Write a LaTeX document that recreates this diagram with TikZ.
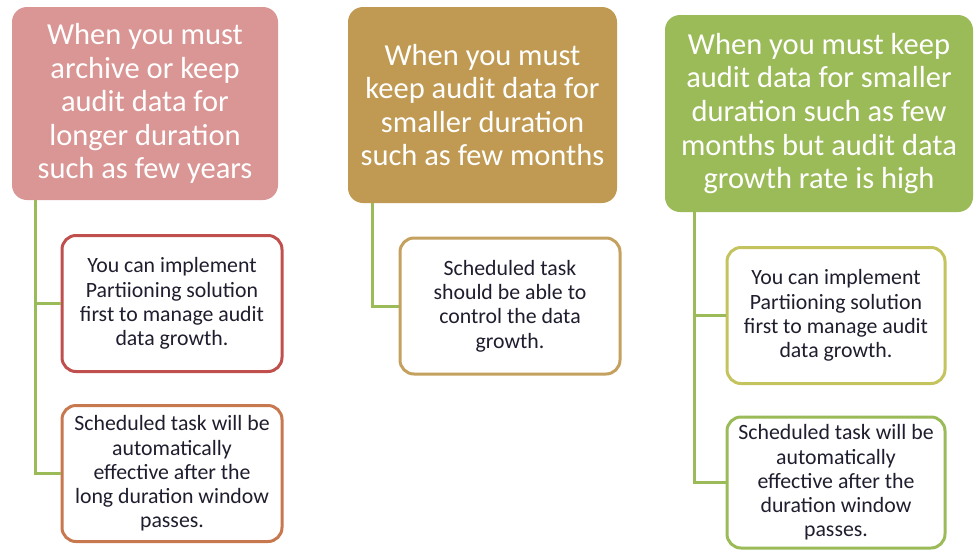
\documentclass[tikz,border=0pt]{standalone}
\usepackage{fontspec}
\setmainfont{Carlito}
\usetikzlibrary{calc}
\definecolor{PinkClr}{HTML}{D99694}
\definecolor{TanClr}{HTML}{C09A52}
\definecolor{LeafClr}{HTML}{9BBB59}
\definecolor{RedEdge}{HTML}{C0504D}
\definecolor{RustEdge}{HTML}{C8784E}
\definecolor{TanEdge}{HTML}{C4A15E}
\definecolor{OliveEdge}{HTML}{C4C35E}
\definecolor{TextClr}{HTML}{1E1E2E}

\tikzset{
  headBox/.style={rounded corners=15pt,inner sep=0pt,align=center,text=white,
    font=\fontsize{30.5}{33.6}\selectfont},
  subBox/.style={rounded corners=14pt,draw,line width=3pt,fill=white,inner sep=0pt,
    align=center,text=TextClr,minimum width=220pt,minimum height=136pt,
    font=\fontsize{21.8}{24.3}\selectfont},
  connLine/.style={draw=LeafClr,line width=3pt}
}

\begin{document}
\begin{tikzpicture}[x=1pt,y=-1pt]
\useasboundingbox (0,0) rectangle (975,552);

% headers
\node[headBox,fill=PinkClr,minimum width=266pt,minimum height=193pt] (h1) at (145,103.5)
  {When you must\\archive or keep\\audit data for\\longer duration\\such as few years};
\node[headBox,fill=TanClr,minimum width=269pt,minimum height=196pt] (h2) at (482.5,105)
  {When you must\\keep audit data for\\smaller duration\\such as few months};
\node[headBox,fill=LeafClr,minimum width=308pt,minimum height=197pt] (h3) at (819,113.5)
  {When you must keep\\audit data for smaller\\duration such as few\\months but audit data\\growth rate is high};

% sub boxes
\node[subBox,draw=RedEdge] (a1) at (172,303.5)
  {You can implement\\Partiioning solution\\first to manage audit\\data growth.};
\node[subBox,draw=RustEdge] (a2) at (172,473.5)
  {Scheduled task will be\\automatically\\effective after the\\long duration window\\passes.};
\node[subBox,draw=TanEdge] (b1) at (510,306)
  {Scheduled task\\should be able to\\control the data\\growth.};
\node[subBox,draw=OliveEdge,minimum width=218pt] (c1) at (836,315.5)
  {You can implement\\Partiioning solution\\first to manage audit\\data growth.};
\node[subBox,draw=LeafClr,minimum width=218pt,minimum height=131pt] (c2) at (836,482.5)
  {Scheduled task will be\\automatically\\effective after the\\duration window\\passes.};

% connectors
\draw[connLine] ([xshift=24pt]h1.south west) |- (a1.west);
\draw[connLine] ([xshift=24pt]h1.south west) |- (a2.west);
\draw[connLine] ([xshift=25pt]h2.south west) |- (b1.west);
\draw[connLine] ([xshift=30pt]h3.south west) |- (c1.west);
\draw[connLine] ([xshift=30pt]h3.south west) |- (c2.west);

\end{tikzpicture}
\end{document}
